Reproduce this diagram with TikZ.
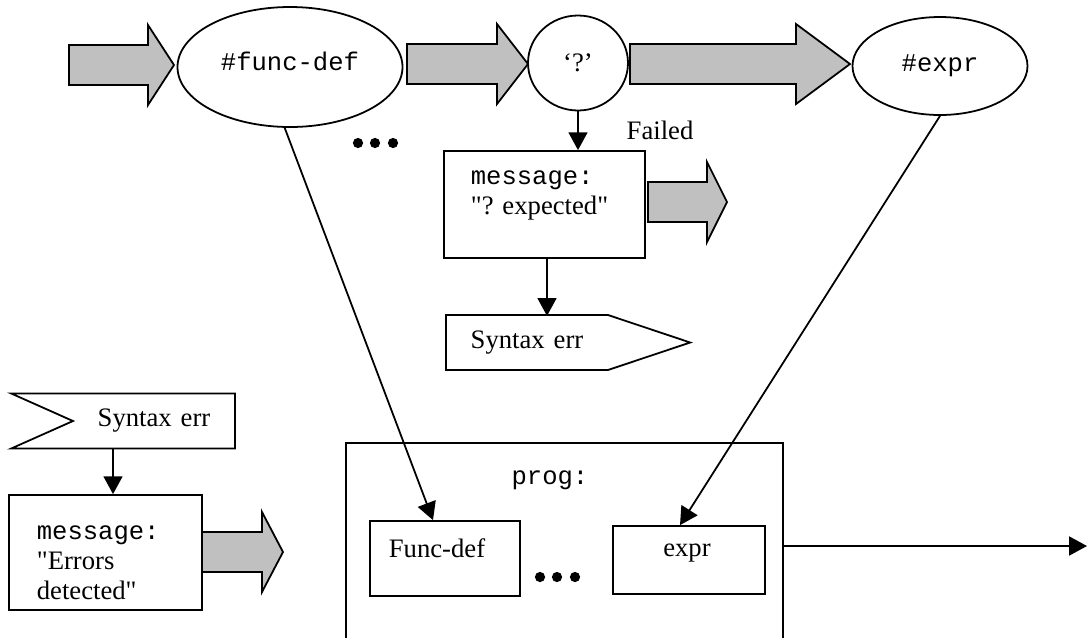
\documentclass[tikz,border=0pt]{standalone}
\usepackage{fontspec}
\setmainfont{Liberation Serif}
\setmonofont{Liberation Mono}
\usepackage{tikz}
\usetikzlibrary{arrows.meta, shapes.geometric, shapes.symbols, calc}
\definecolor{pale}{RGB}{192, 192, 192}
\newcommand{\pxl}{0.45pt}
\newcommand{\cd}[1]{{\ttfamily\fontsize{11.5pt}{13.5pt}\selectfont #1}}
\newcommand{\qq}{\textquotedbl}
% block arrow: left end, head start, tip, centre line
\newcommand{\bigarrow}[4]{%
  \draw[bigarrow] (#1, #4-20) -- (#2, #4-20) -- (#2, #4-40) -- (#3, #4)
    -- (#2, #4+40) -- (#2, #4+20) -- (#1, #4+20) -- cycle;}

\begin{document}
\begin{tikzpicture}[x=\pxl, y=-\pxl, line width=0.8pt,
    every node/.style={font=\fontsize{12pt}{13.5pt}\selectfont},
    bigarrow/.style={fill=pale, draw=black, line join=miter},
    oval/.style={ellipse, draw, fill=white, inner sep=0pt},
    box/.style={rectangle, draw, fill=white, inner sep=0pt},
    flow/.style={-{Triangle[length=8pt, width=8.5pt]}},
    sig/.style={signal, draw, fill=white, inner xsep=23.5*\pxl, inner ysep=0pt,
      text width=115*\pxl, align=center, minimum height=55*\pxl}]
  \useasboundingbox (0, 0) rectangle (1087, 637);
  \clip (0, 0) rectangle (1087, 637);

  % top row
  \bigarrow{69}{148}{174}{65}
  \node[oval, minimum width=225*\pxl, minimum height=120*\pxl] (funcdef) at (290, 67) {};
  \node (funcdef-t) at (290, 61) {\cd{\#func-def}};
  \bigarrow{407}{497}{528}{64}
  \node[oval, minimum width=100*\pxl, minimum height=95*\pxl] (qmark) at (578, 63) {\textquoteleft?\textquoteright};
  \bigarrow{630}{796}{850}{64}
  \node[oval, minimum width=175*\pxl, minimum height=98*\pxl] (expr) at (940, 66) {\cd{\#expr}};
  \foreach \x in {358, 375, 393} \fill (\x, 143) circle (2.3pt);

  % failed branch
  \node (failed) at (660, 130) {Failed};
  \node[box, minimum width=201*\pxl, minimum height=107*\pxl] (msg) at (544.5, 204.5) {};
  \node[align=left, anchor=west, inner sep=0pt] (msg-t) at (470, 195) {\cd{message:}\\\qq? expected\qq};
  \draw[flow] (qmark.south) -- (qmark.south |- msg.north);
  \bigarrow{648}{707}{727}{202}
  \node[sig, signal to=east, signal pointer angle=37] (sendsig) at (527, 342.5) {Syntax err};

  % error handler
  \node[sig, signal from=west, signal to=nowhere, signal pointer angle=48] (recvsig) at (154, 421) {Syntax err};
  \node[box, minimum width=193*\pxl, minimum height=115*\pxl] (errmsg) at (105.5, 552.5) {};
  \node[align=left, anchor=west, inner sep=0pt] (errmsg-t) at (36, 563) {\cd{message:}\\\qq Errors\\detected\qq};
  \coordinate (drop) at ($(errmsg.north)+(7.5, 0)$);
  \draw[flow] (drop |- recvsig.south) -- (drop);
  \bigarrow{202}{262}{283}{552}

  % result
  \node[box, minimum width=437*\pxl, minimum height=257*\pxl] (prog) at (564.5, 571.5) {};
  \node (prog-t) at (550, 480) {\cd{prog:}};
  \node[box, minimum width=150*\pxl, minimum height=75*\pxl] (fdefbox) at (445, 558.5) {};
  \node (fdefbox-t) at (437, 548) {Func-def};
  \node[box, minimum width=152*\pxl, minimum height=68*\pxl] (exprbox) at (689, 560) {};
  \node (exprbox-t) at (687, 553) {expr};
  \foreach \x in {540, 557, 575} \fill (\x, 577) circle (2.3pt);
  \draw[flow] (funcdef.-95) -- ($(fdefbox.north)+(-12, 0)$);
  \draw[flow] (expr.south) -- ($(exprbox.north)+(-9, 0)$);
  \coordinate (out) at (1087, 546);
  \draw[flow] (out -| prog.east) -- (out);

  \coordinate (sendtop) at ($(msg.south)+(2.5, 57)$);
  \draw[flow] (msg.south -| sendtop) -- (sendtop);
\end{tikzpicture}
\end{document}
